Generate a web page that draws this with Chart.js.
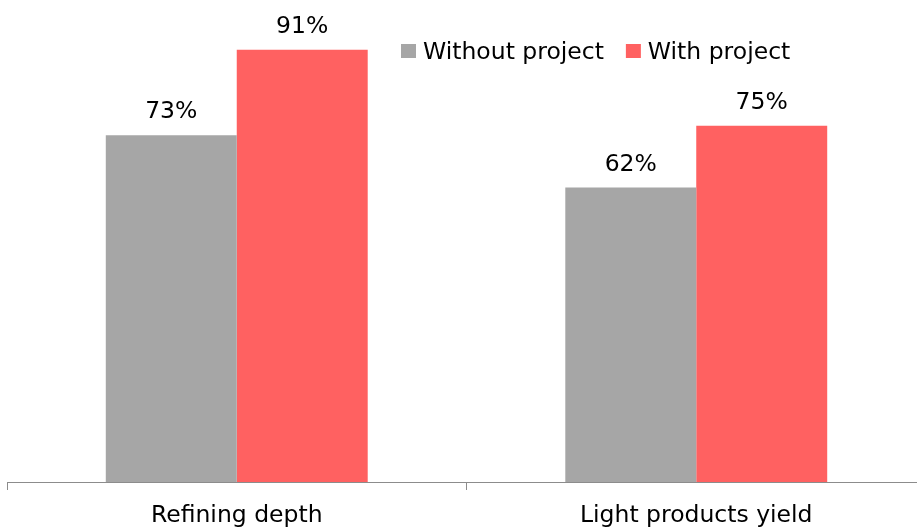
<!DOCTYPE html>
<html>
<head>
<meta charset="utf-8">
<script src="https://cdn.jsdelivr.net/npm/chart.js@4/dist/chart.umd.min.js"></script>
<style>
  html, body { margin: 0; padding: 0; background: #fff; overflow: hidden; width: 917px; height: 531px; }
  #wrap { position: absolute; left: 0; top: 0; width: 926px; height: 531px; }
</style>
</head>
<body>
<div id="wrap"><canvas id="c"></canvas></div>
<script>
const categories = ["Refining depth", "Light products yield"];
const seriesNames = ["Without project", "With project"];
const withoutProject = [73, 62];
const withProject = [91, 75];
const seriesColors = ["#A6A6A6", "#FF6161"];

const FONT = '"DejaVu Sans", sans-serif';
const FSIZE = 23.5;

const labelPlugin = {
  id: 'valueLabels',
  afterDatasetsDraw(chart) {
    const ctx = chart.ctx;
    ctx.save();
    ctx.font = FSIZE + 'px ' + FONT;
    ctx.fillStyle = '#000';
    ctx.textAlign = 'center';
    ctx.textBaseline = 'alphabetic';
    chart.data.datasets.forEach((ds, i) => {
      const meta = chart.getDatasetMeta(i);
      meta.data.forEach((bar, j) => {
        ctx.fillText(ds.data[j] + '%', bar.x, bar.y - 17);
      });
    });
    ctx.restore();
  }
};

const legendPlugin = {
  id: 'customLegend',
  afterDraw(chart) {
    const ctx = chart.ctx;
    ctx.save();
    ctx.font = FSIZE + 'px ' + FONT;
    ctx.textBaseline = 'alphabetic';
    ctx.textAlign = 'left';
    let x = 401;
    const y = 51;
    chart.data.datasets.forEach((ds) => {
      ctx.fillStyle = ds.backgroundColor;
      ctx.fillRect(x, y - 7, 15, 14);
      ctx.fillStyle = '#000';
      ctx.fillText(ds.label, x + 22, 59);
      x += 22 + ctx.measureText(ds.label).width + 22;
    });
    ctx.restore();
  }
};

new Chart(document.getElementById('c'), {
  type: 'bar',
  data: {
    labels: categories,
    datasets: [
      { label: seriesNames[0], data: withoutProject, backgroundColor: seriesColors[0] },
      { label: seriesNames[1], data: withProject, backgroundColor: seriesColors[1] }
    ]
  },
  options: {
    responsive: true,
    maintainAspectRatio: false,
    animation: false,
    layout: { padding: { left: 7, right: 0, top: 7, bottom: 0 } },
    datasets: { bar: { categoryPercentage: 0.57, barPercentage: 1.0 } },
    plugins: { legend: { display: false }, tooltip: { enabled: false } },
    scales: {
      x: {
        grid: { drawOnChartArea: false, drawTicks: true, tickLength: 8, color: '#8c8c8c', lineWidth: 1 },
        border: { display: true, color: '#8c8c8c', width: 1 },
        ticks: { color: '#000', font: { family: FONT, size: FSIZE }, padding: 12, maxRotation: 0 },
        afterFit(scale) { scale.height = 49; }
      },
      y: {
        display: false,
        min: 0,
        max: 100
      }
    }
  },
  plugins: [labelPlugin, legendPlugin]
});
</script>
</body>
</html>
